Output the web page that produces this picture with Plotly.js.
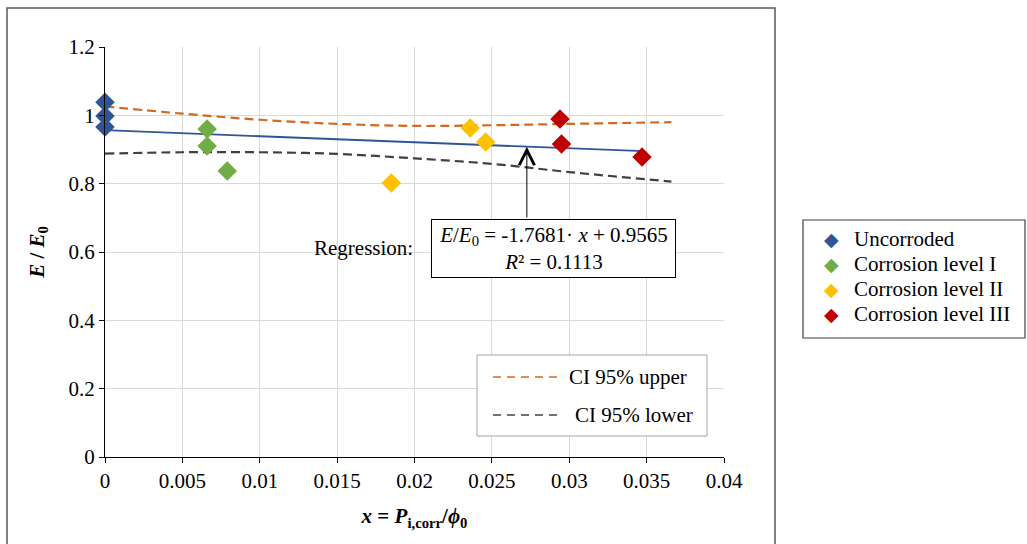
<!DOCTYPE html>
<html>
<head>
<meta charset="utf-8">
<script src="https://cdn.plot.ly/plotly-3.0.1.min.js"></script>
<style>
html,body{margin:0;padding:0;background:#fff;}
#chart{width:1027px;height:544px;}
</style>
</head>
<body>
<div id="chart"></div>
<script>
// ---- data ----
const uncorrodedX = [0, 0, 0];
const uncorrodedY = [1.038, 0.998, 0.966];
const level1X = [0.0066, 0.0066, 0.0079];
const level1Y = [0.960, 0.910, 0.837];
const level2X = [0.0185, 0.0236, 0.0246];
const level2Y = [0.802, 0.963, 0.922];
const level3X = [0.0294, 0.0295, 0.0347];
const level3Y = [0.989, 0.916, 0.878];

const regressionX = [0, 0.0348];
const regressionY = [0.9565, 0.8950];

const ciX = [0, 0.005, 0.01, 0.015, 0.02, 0.025, 0.03, 0.0366];
const ciUpper = [1.026, 1.005, 0.987, 0.975, 0.969, 0.971, 0.975, 0.980];
const ciLower = [0.888, 0.892, 0.892, 0.887, 0.874, 0.858, 0.834, 0.806];

const xTicks = [0, 0.005, 0.01, 0.015, 0.02, 0.025, 0.03, 0.035, 0.04];
const xTickLabels = ["0", "0.005", "0.01", "0.015", "0.02", "0.025", "0.03", "0.035", "0.04"];
const yTicks = [0, 0.2, 0.4, 0.6, 0.8, 1, 1.2];
const yTickLabels = ["0", "0.2", "0.4", "0.6", "0.8", "1", "1.2"];

const seriesNames = ["Uncorroded", "Corrosion level I", "Corrosion level II", "Corrosion level III"];
const seriesColors = ["#2F5597", "#70AD47", "#FFC000", "#C00000"];
const ciNames = ["CI 95% upper", "CI 95% lower"];
const ciColors = ["#D2691E", "#404040"];

// ---- chart ----
const FONT = "Liberation Serif";
const FS = 21;
const pointSets = [[uncorrodedX, uncorrodedY], [level1X, level1Y], [level2X, level2Y], [level3X, level3Y]];

const traces = [];
traces.push({
  x: ciX, y: ciUpper, mode: "lines", name: ciNames[0],
  line: {color: ciColors[0], width: 2.2, dash: "9px,5px", shape: "spline"},
  showlegend: false, hoverinfo: "skip"
});
traces.push({
  x: ciX, y: ciLower, mode: "lines", name: ciNames[1],
  line: {color: ciColors[1], width: 2.2, dash: "9px,5px", shape: "spline"},
  showlegend: false, hoverinfo: "skip"
});
traces.push({
  x: regressionX, y: regressionY, mode: "lines", name: "Regression",
  line: {color: "#2F5597", width: 1.8}, showlegend: false, hoverinfo: "skip"
});
pointSets.forEach((p, i) => {
  traces.push({
    x: p[0], y: p[1], mode: "markers", name: seriesNames[i], cliponaxis: false,
    marker: {symbol: "diamond", size: 15, color: seriesColors[i]}, showlegend: false
  });
});

const px2xp = px => (px - 105) / 619;
const py2yp = py => (457 - py) / 410;

const shapes = [
  {type: "rect", xref: "paper", yref: "paper", x0: px2xp(7), x1: px2xp(775), y0: py2yp(560), y1: py2yp(8),
   line: {color: "#595959", width: 1.5}, layer: "below"},
  {type: "rect", xref: "paper", yref: "paper", x0: px2xp(803), x1: px2xp(1025), y0: py2yp(338), y1: py2yp(220),
   line: {color: "#404040", width: 1.2}},
  {type: "rect", xref: "paper", yref: "paper", x0: px2xp(477), x1: px2xp(707), y0: py2yp(436), y1: py2yp(355),
   line: {color: "#a6a6a6", width: 1}, fillcolor: "#fff", layer: "above"}
];
const annotations = [
  {x: 0.02726, y: 0.9083, ax: 0.02726, ay: 0.697, xref: "x", yref: "y", axref: "x", ayref: "y",
   showarrow: true, arrowhead: 5, arrowsize: 3, arrowwidth: 1, arrowcolor: "#000", text: ""},
  {x: 0.0167, y: 0.612, xref: "x", yref: "y", text: "Regression:", showarrow: false,
   font: {family: FONT, size: FS}},
  {x: 0.02897, y: 0.610, xref: "x", yref: "y", showarrow: false,
   text: "<i>E</i>/<i>E</i><sub>0</sub> = -1.7681· <i>x</i> + 0.9565<br><i>R</i>² = 0.1113",
   font: {family: FONT, size: FS}, align: "center",
   bgcolor: "#fff", bordercolor: "#000", borderwidth: 1, borderpad: 1, width: 241, height: 55}
];
// CI legend (line samples + labels)
const ciRows = [377, 415];
ciNames.forEach((nm, i) => {
  shapes.push({type: "line", xref: "paper", yref: "paper",
    x0: px2xp(493), x1: px2xp(559), y0: py2yp(ciRows[i]), y1: py2yp(ciRows[i]),
    line: {color: ciColors[i], width: 1.5, dash: "8px,6px"}, layer: "above"});
  annotations.push({xref: "paper", yref: "paper", x: px2xp(i === 0 ? 567 : 573), y: py2yp(ciRows[i]),
    xanchor: "left", yanchor: "middle", text: nm, showarrow: false, font: {family: FONT, size: FS}});
});
// series legend (diamond keys + labels)
const legRows = [239, 264, 289, 314];
seriesNames.forEach((nm, i) => {
  annotations.push({xref: "paper", yref: "paper", x: px2xp(831), y: py2yp(legRows[i]),
    xanchor: "center", yanchor: "middle", text: "◆", showarrow: false,
    font: {family: "DejaVu Sans", size: 19, color: seriesColors[i]}});
  annotations.push({xref: "paper", yref: "paper", x: px2xp(852), y: py2yp(legRows[i]),
    xanchor: "left", yanchor: "middle", text: nm, showarrow: false,
    font: {family: FONT, size: FS, color: "#000"}});
});

const layout = {
  width: 1027, height: 544,
  margin: {l: 105, r: 303, t: 47, b: 87},
  paper_bgcolor: "#fff", plot_bgcolor: "#fff",
  font: {family: FONT, size: FS, color: "#000"},
  showlegend: false,
  xaxis: {
    range: [0, 0.04], tickvals: xTicks, ticktext: xTickLabels,
    showgrid: true, gridcolor: "#d9d9d9", gridwidth: 1,
    zeroline: false, showline: true, linecolor: "#000", linewidth: 1,
    ticks: "outside", ticklen: 5, tickcolor: "#000",
    tickfont: {family: FONT, size: FS, color: "#000"},
    title: {text: "<b><i>x</i> = <i>P</i><sub>i,corr</sub>/<i>ϕ</i><sub>0</sub></b>", font: {family: FONT, size: FS}, standoff: 16}
  },
  yaxis: {
    range: [0, 1.2], tickvals: yTicks, ticktext: yTickLabels,
    showgrid: true, gridcolor: "#d9d9d9", gridwidth: 1,
    zeroline: false, showline: true, linecolor: "#000", linewidth: 1,
    ticks: "outside", ticklen: 5, tickcolor: "#000",
    tickfont: {family: FONT, size: FS, color: "#000"},
    title: {text: "<b><i>E</i> / <i>E</i><sub>0</sub></b>", font: {family: FONT, size: FS}, standoff: 18}
  },
  shapes: shapes,
  annotations: annotations
};

Plotly.newPlot("chart", traces, layout, {staticPlot: true, displayModeBar: false});
</script>
</body>
</html>
